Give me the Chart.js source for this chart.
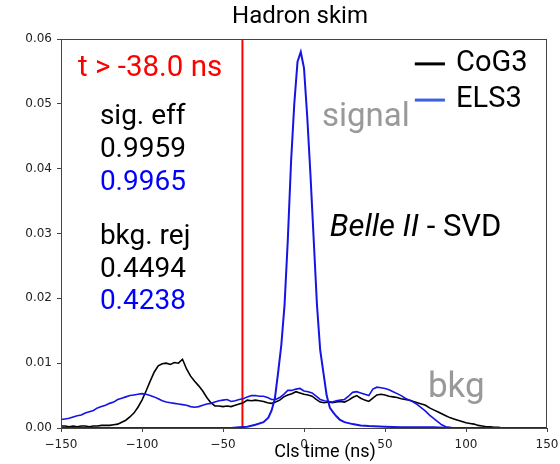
<!DOCTYPE html>
<html lang="en">
<head>
  <meta charset="UTF-8">
  <title>Hadron skim - cluster time</title>
  <script src="https://cdn.jsdelivr.net/npm/chart.js"></script>
  <style>
    html, body { margin: 0; padding: 0; background: #fff; }
    #wrap { width: 560px; height: 464px; }
  </style>
</head>
<body>

<div id="wrap">
  <canvas id="clsTime" width="560" height="464"></canvas>
</div>

<script>
  // Background histograms, bin centres every 2.5 ns from -150 to 150
  const binStart = -150;
  const binWidth = 2.5;

  const cog3Bkg = [
    0.0003, 0.0003, 0.0002, 0.0003, 0.0002, 0.0003, 0.0003, 0.0002, 0.0003, 0.0003,
    0.0004, 0.0004, 0.0004, 0.0005, 0.0006, 0.0009, 0.0012, 0.0017, 0.0023, 0.0032,
    0.0043, 0.0057, 0.0072, 0.0086, 0.0096, 0.0099, 0.0100, 0.0098, 0.0101, 0.0100,
    0.0106, 0.0091, 0.0080, 0.0072, 0.0065, 0.0057, 0.0047, 0.0039, 0.0034, 0.0034,
    0.0033, 0.0034, 0.0033, 0.0035, 0.0037, 0.0039, 0.0043, 0.0042, 0.0043, 0.0042,
    0.0041, 0.0039, 0.0038, 0.0040, 0.0043, 0.0048, 0.0051, 0.0053, 0.0056, 0.0054,
    0.0052, 0.0051, 0.0049, 0.0044, 0.0040, 0.0039, 0.0040, 0.0039, 0.0040, 0.0041,
    0.0040, 0.0043, 0.0047, 0.0050, 0.0046, 0.0043, 0.0041, 0.0046, 0.0051, 0.0052,
    0.0051, 0.0049, 0.0048, 0.0047, 0.0045, 0.0044, 0.0043, 0.0041, 0.0039, 0.0037,
    0.0035, 0.0031, 0.0028, 0.0025, 0.0022, 0.0019, 0.0016, 0.0014, 0.0012, 0.0010,
    0.0008, 0.0007, 0.0006, 0.0004, 0.0003, 0.0002, 0.0002, 0.0001, 0.0001, 0.0000,
    0.0000, 0.0000, 0.0000, 0.0000, 0.0000, 0.0000, 0.0000, 0.0000, 0.0000, 0.0000,
    0.0000
  ];

  const els3Bkg = [
    0.0013, 0.0014, 0.0015, 0.0017, 0.0019, 0.0020, 0.0023, 0.0025, 0.0027, 0.0031,
    0.0033, 0.0035, 0.0038, 0.0040, 0.0044, 0.0046, 0.0048, 0.0050, 0.0051, 0.0052,
    0.0053, 0.0052, 0.0050, 0.0048, 0.0045, 0.0042, 0.0040, 0.0039, 0.0038, 0.0037,
    0.0036, 0.0035, 0.0033, 0.0032, 0.0033, 0.0035, 0.0037, 0.0038, 0.0040, 0.0042,
    0.0043, 0.0044, 0.0041, 0.0042, 0.0044, 0.0045, 0.0048, 0.0050, 0.0050, 0.0049,
    0.0049, 0.0047, 0.0044, 0.0044, 0.0047, 0.0052, 0.0058, 0.0058, 0.0060, 0.0061,
    0.0057, 0.0056, 0.0054, 0.0049, 0.0044, 0.0042, 0.0041, 0.0040, 0.0042, 0.0043,
    0.0044, 0.0049, 0.0055, 0.0056, 0.0054, 0.0052, 0.0050, 0.0060, 0.0063, 0.0062,
    0.0061, 0.0059, 0.0056, 0.0053, 0.0050, 0.0046, 0.0043, 0.0040, 0.0036, 0.0031,
    0.0026, 0.0020, 0.0015, 0.0010, 0.0005, 0.0002, 0.0001, 0.0000, 0.0000, 0.0000,
    0.0000, 0.0000, 0.0000, 0.0000, 0.0000, 0.0000, 0.0000, 0.0000, 0.0000, 0.0000,
    0.0000, 0.0000, 0.0000, 0.0000, 0.0000, 0.0000, 0.0000, 0.0000, 0.0000, 0.0000,
    0.0000
  ];

  // ELS3 signal peak (the CoG3 one sits underneath it)
  const sigTimes = [
    -150, -60, -45, -40, -35, -30, -25, -22, -20, -18, -16, -14, -12, -10, -8, -6, -4, -2,
    0, 2, 4, 6, 8, 10, 12, 14, 16, 18, 20, 22, 25, 30, 35, 40, 50, 60, 80, 90, 150
  ];
  const els3Sig = [
    0.0000, 0.0000, 0.0000, 0.0001, 0.0002, 0.0005, 0.0009, 0.0016, 0.0027, 0.0045, 0.0085, 0.0128, 0.0190, 0.0290, 0.0410, 0.0500, 0.0565, 0.0580,
    0.0555, 0.0480, 0.0390, 0.0290, 0.0190, 0.0120, 0.0085, 0.0050, 0.0031, 0.0024, 0.0018, 0.0013, 0.0009, 0.0006, 0.0004, 0.0003, 0.0002, 0.0001, 0.0001, 0.0000, 0.0000
  ];

  const tCut = -38.0;
  const sigEff = ['0.9959', '0.9965'];
  const bkgRej = ['0.4494', '0.4238'];
  const seriesNames = ['CoG3', 'ELS3'];
  const seriesColors = ['#000000', '#1414e6'];
  const legendColors = ['#000000', '#3d5fe3'];

  const xTicks = [-150, -100, -50, 0, 50, 100, 150];
  const yTicks = [0, 0.01, 0.02, 0.03, 0.04, 0.05, 0.06];

  function toPoints(xs, ys) {
    return ys.map((y, i) => ({ x: xs[i], y: y }));
  }
  const binTimes = cog3Bkg.map((_, i) => binStart + binWidth * i);

  const TEXT_FONT = 'Roboto, "Noto Sans", sans-serif';
  const TICK_FONT = '"DejaVu Sans", sans-serif';

  // text drawn in axes fraction coordinates (0..1 from bottom-left of plot box)
  function axText(ctx, area, fx, fy, str, font, color, align) {
    ctx.font = font;
    ctx.fillStyle = color;
    ctx.textAlign = align || 'left';
    ctx.textBaseline = 'middle';
    ctx.fillText(str, area.left + fx * area.width, area.bottom - fy * area.height);
  }

  const annotations = {
    id: 'annotations',
    beforeDatasetsDraw(chart) {
      const { ctx, chartArea: a, scales } = chart;
      // cut line
      const xc = scales.x.getPixelForValue(tCut);
      ctx.save();
      ctx.strokeStyle = '#ff0000';
      ctx.lineWidth = 2;
      ctx.beginPath();
      ctx.moveTo(xc, a.top);
      ctx.lineTo(xc, a.bottom);
      ctx.stroke();
      ctx.restore();
    },
    afterDraw(chart) {
      const { ctx, chartArea: a } = chart;
      ctx.save();

      // frame
      ctx.strokeStyle = '#444';
      ctx.lineWidth = 1;
      ctx.strokeRect(a.left + 0.5, a.top + 0.5, a.width - 1, a.height);

      // title and x label
      ctx.font = '24px ' + TEXT_FONT;
      ctx.fillStyle = '#000';
      ctx.textAlign = 'center';
      ctx.textBaseline = 'middle';
      ctx.fillText('Hadron skim', 300, 17);
      ctx.font = '18px ' + TEXT_FONT;
      ctx.fillText('Cls time (ns)', 325, 452);

      const big = '28px ' + TEXT_FONT;
      axText(ctx, a, 0.035, 0.923, 't > ' + tCut.toFixed(1) + ' ns', '29.5px ' + TEXT_FONT, '#ff0000');
      axText(ctx, a, 0.080, 0.799, 'sig. eff', big, '#000');
      axText(ctx, a, 0.080, 0.715, sigEff[0], big, '#000');
      axText(ctx, a, 0.080, 0.630, sigEff[1], big, '#0000ff');
      axText(ctx, a, 0.080, 0.491, 'bkg. rej', big, '#000');
      axText(ctx, a, 0.080, 0.406, bkgRej[0], big, '#000');
      axText(ctx, a, 0.080, 0.324, bkgRej[1], big, '#0000ff');

      axText(ctx, a, 0.537, 0.797, 'signal', '33px ' + TEXT_FONT, '#999');
      axText(ctx, a, 0.755, 0.103, 'bkg', '35px ' + TEXT_FONT, '#999');

      // experiment label: italic "Belle II", upright rest
      const italic = 'italic 31px ' + TEXT_FONT;
      axText(ctx, a, 0.553, 0.514, 'Belle II', italic, '#000');
      ctx.font = italic;
      const w = ctx.measureText('Belle II').width;
      axText(ctx, a, 0.553 + w / a.width, 0.514, ' - SVD', '31px ' + TEXT_FONT, '#000');

      // legend
      const rows = [0.936, 0.843];
      seriesNames.forEach((name, i) => {
        const y = a.bottom - rows[i] * a.height;
        ctx.strokeStyle = legendColors[i];
        ctx.lineWidth = 3;
        ctx.beginPath();
        ctx.moveTo(a.left + 0.728 * a.width, y);
        ctx.lineTo(a.left + 0.790 * a.width, y);
        ctx.stroke();
        axText(ctx, a, 0.813, rows[i], name, '29px ' + TEXT_FONT, '#000');
      });

      ctx.restore();
    }
  };

  new Chart(document.getElementById('clsTime'), {
    type: 'line',
    data: {
      datasets: [
        {
          label: seriesNames[1] + ' signal',
          data: toPoints(sigTimes, els3Sig),
          borderColor: seriesColors[1],
          borderWidth: 2,
          order: 0
        },
        {
          label: seriesNames[1] + ' bkg',
          data: toPoints(binTimes, els3Bkg),
          borderColor: seriesColors[1],
          borderWidth: 1.6,
          order: 1
        },
        {
          label: seriesNames[0] + ' bkg',
          data: toPoints(binTimes, cog3Bkg),
          borderColor: seriesColors[0],
          borderWidth: 1.6,
          order: 2
        }
      ]
    },
    options: {
      responsive: false,
      animation: false,
      layout: { padding: { top: 39, right: 13, left: 0, bottom: 0 } },
      elements: { point: { radius: 0 }, line: { tension: 0 } },
      plugins: {
        legend: { display: false },
        tooltip: { enabled: false }
      },
      scales: {
        x: {
          type: 'linear',
          min: -150,
          max: 150,
          afterFit(scale) {
            scale.height = 36;
            // keep the plot box fixed, end labels may overhang
            scale.paddingLeft = 0;
            scale.paddingRight = 0;
          },
          afterBuildTicks(scale) { scale.ticks = xTicks.map(v => ({ value: v })); },
          ticks: {
            padding: 6,
            color: '#222',
            font: { family: TICK_FONT, size: 12 },
            maxRotation: 0,
            callback: v => String(v).replace('-', '\u2212')
          },
          grid: { drawOnChartArea: false, tickLength: 4, color: '#444' },
          border: { color: '#444' }
        },
        y: {
          min: 0,
          max: 0.06,
          afterFit(scale) {
            scale.width = 61;
            scale.paddingTop = 0;
            scale.paddingBottom = 0;
          },
          afterBuildTicks(scale) { scale.ticks = yTicks.map(v => ({ value: v })); },
          ticks: {
            padding: 5,
            color: '#222',
            font: { family: TICK_FONT, size: 12 },
            callback: v => v.toFixed(2)
          },
          grid: { drawOnChartArea: false, tickLength: 4, color: '#444' },
          border: { color: '#444' }
        }
      }
    },
    plugins: [annotations]
  });
</script>

</body>
</html>
